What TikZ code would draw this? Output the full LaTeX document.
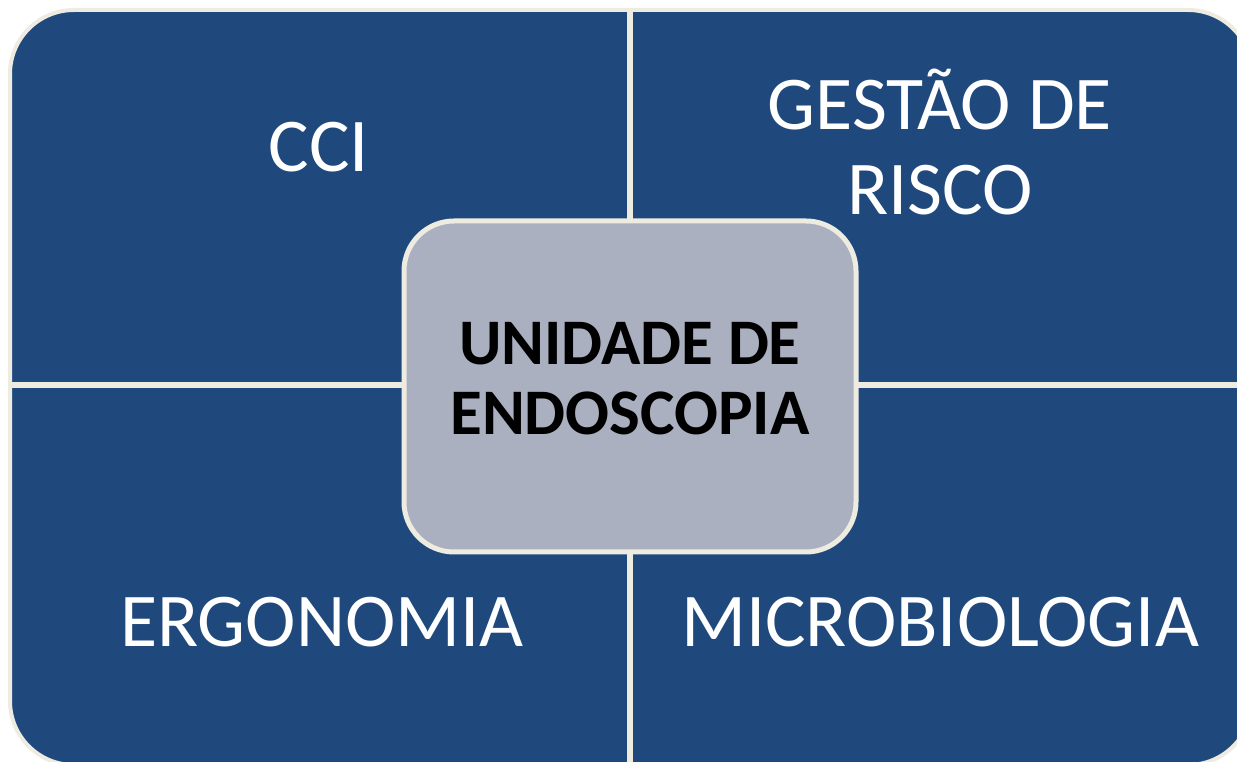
\documentclass[tikz,border=0pt]{standalone}
\usepackage{fontspec}
\setmainfont{Carlito}
\definecolor{quadblue}{HTML}{1F497D}
\definecolor{cream}{HTML}{EEECE1}
\definecolor{centergray}{RGB}{170,176,191}
\tikzset{
  outerlbl/.style={text=white, font=\fontsize{76}{85}\selectfont, align=center, inner sep=0pt},
  centerbox/.style={rectangle, rounded corners=50pt, fill=centergray, draw=cream, line width=5pt,
    minimum width=452pt, minimum height=331pt, inner sep=0pt, align=center, text depth=16pt,
    font=\fontsize{65}{70}\selectfont\bfseries, text=black},
  divider/.style={cream, line width=6pt}
}
\begin{document}
\begin{tikzpicture}[x=1pt,y=1pt]
\useasboundingbox (0,0) rectangle (1237,762);
\fill[white] (0,0) rectangle (1237,762);
% outer matrix
\fill[quadblue, rounded corners=64pt] (10,-3) rectangle (1252,752);
\coordinate (vt) at (630,752);
\coordinate (vb) at (630,-3);
\coordinate (hl) at (10,377);
\coordinate (hr) at (1252,377);
\draw[divider] (vt) -- (vb);
\draw[divider] (hl) -- (hr);
\draw[cream, line width=4pt, rounded corners=64pt] (10,-3) rectangle (1252,752);
% labels
\node[outerlbl, anchor=base] (cci) at (319,590) {CCI};
\node[outerlbl, anchor=base] (gestao) at (940,547) {GESTÃO DE\\RISCO};
\node[outerlbl, anchor=base] (ergo) at (322,115) {ERGONOMIA};
\node[outerlbl, anchor=base] (micro) at (940,115) {MICROBIOLOGIA};
% center
\node[centerbox] (unidade) at (630,375.5) {UNIDADE DE\\ENDOSCOPIA};
\end{tikzpicture}
\end{document}
